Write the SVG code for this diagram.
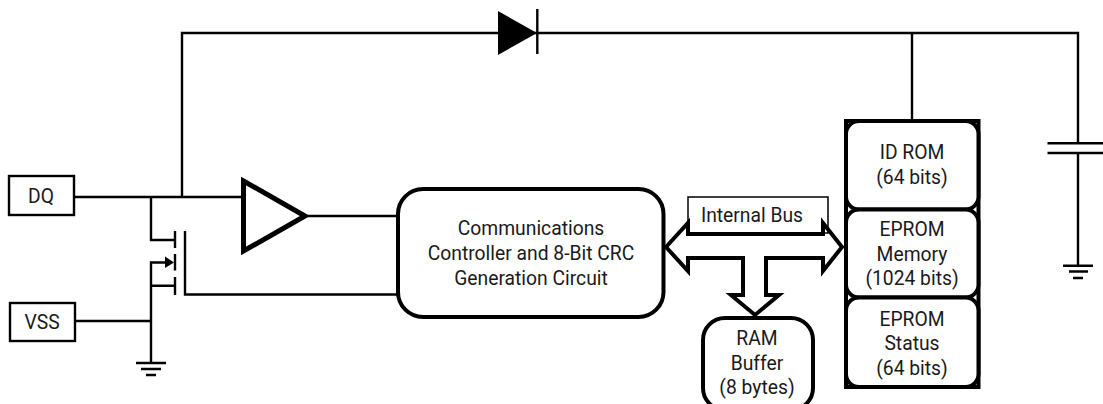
<svg xmlns="http://www.w3.org/2000/svg" width="1103" height="404" viewBox="0 0 1103 404">
<style>
text{font-family:"Roboto","Liberation Sans",sans-serif;font-size:19.3px;fill:#1a1a1a;text-anchor:middle}
.w{fill:none;stroke:#000;stroke-width:2.400}
.box{fill:#fff;stroke:#000;stroke-width:2.400}
.mem{fill:#fff;stroke:#000;stroke-width:4}
</style>
<rect width="1103" height="404" fill="#fff"/>
<g id="connectors">
<path class="w" d="M75 197H241M182 197V33H1078V143M912 33V119M1078 153V265.500"/>
<path class="w" d="M151 197V240H175M151 321V262.500H166M151 285.700H175M75.500 321H151M151 321V363"/>
<path class="w" d="M175 231V248M175 254V270.500M175 277V295M185 231V294.500H397M308 216H397"/>
<polygon points="165,256.500 174,262.500 165,268" fill="#000"/>
<path class="w" d="M136 363H166M141 369H161M146 375H156"/>
<path class="w" d="M1047.500 143.300H1103M1047.500 153H1103M1063 265.700H1093M1069 271.500H1088M1073 278H1083"/>
</g>
<g id="diode"><polygon points="498,11 537,33 498,55" fill="#000"/><path class="w" d="M537.300 9V54"/></g>
<g id="dq"><rect class="box" x="9" y="176" width="65" height="39"/><text x="41" y="203">DQ</text></g>
<g id="vss"><rect class="box" x="10" y="303" width="65" height="38"/><text x="42" y="329">VSS</text></g>
<g id="buffer"><polygon points="243.500,181 305,216 243.500,251" fill="#fff" stroke="#000" stroke-width="5"/></g>
<g id="controller"><rect class="mem" x="398" y="189" width="265.500" height="128" rx="25"/>
<text x="531" y="235">Communications</text><text x="531" y="260">Controller and 8-Bit CRC</text><text x="531" y="285">Generation Circuit</text></g>
<g id="internal-bus"><rect x="688" y="197" width="140" height="36" fill="#fff" stroke="#000" stroke-width="1.500"/><text x="752" y="222">Internal Bus</text></g>
<g id="bus-arrow"><polygon points="666,247 688,223 688,234 823,234 823,223 842,247 823,271 823,258 766,258 766,295 779,295 755,315 731,295 743,295 743,258 688,258 688,271" fill="none" stroke="#000" stroke-width="4"/></g>
<g id="ram"><rect class="mem" x="703" y="318" width="110" height="92" rx="22"/><text x="757" y="345">RAM</text><text x="757" y="370">Buffer</text><text x="757" y="394">(8 bytes)</text></g>
<g id="memory"><rect x="846" y="121" width="132.500" height="266" fill="none" stroke="#000" stroke-width="4"/>
<g id="id-rom"><rect class="mem" x="846" y="121" width="132.500" height="88.500" rx="13"/><text x="912" y="159">ID ROM</text><text x="912" y="184">(64 bits)</text></g>
<g id="eprom-memory"><rect class="mem" x="846" y="209.500" width="132.500" height="88" rx="13"/><text x="912" y="236">EPROM</text><text x="912" y="261">Memory</text><text x="912" y="285">(1024 bits)</text></g>
<g id="eprom-status"><rect class="mem" x="846" y="297.500" width="132.500" height="89.500" rx="13"/><text x="912" y="326">EPROM</text><text x="912" y="350">Status</text><text x="912" y="375">(64 bits)</text></g>
</g>
</svg>
